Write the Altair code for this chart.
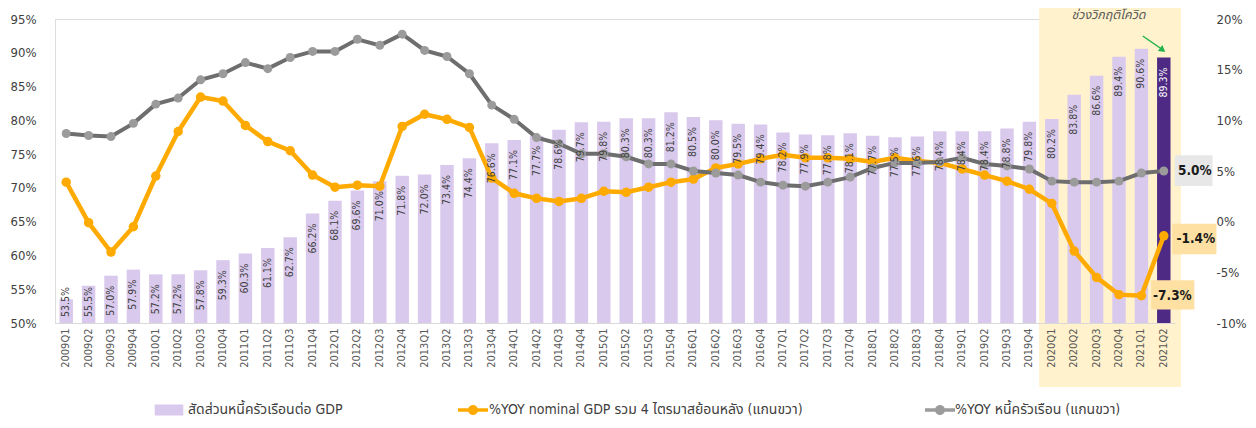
import altair as alt
import pandas as pd

# ---------------- data ----------------
quarters = [f"{y}Q{q}" for y in range(2009, 2022) for q in (1, 2, 3, 4)][:50]

debt_to_gdp = [53.5, 55.5, 57.0, 57.9, 57.2, 57.2, 57.8, 59.3,
               60.3, 61.1, 62.7, 66.2, 68.1, 69.6, 71.0, 71.8,
               72.0, 73.4, 74.4, 76.6, 77.1, 77.7, 78.6, 79.7,
               79.8, 80.3, 80.3, 81.2, 80.5, 80.0, 79.5, 79.4,
               78.2, 77.9, 77.8, 78.1, 77.7, 77.5, 77.6, 78.4,
               78.4, 78.4, 78.8, 79.8, 80.2, 83.8, 86.6, 89.4,
               90.6, 89.3]

gdp_yoy = [3.9, -0.1, -3.0, -0.5, 4.5, 8.9, 12.3, 11.9,
           9.5, 7.9, 7.0, 4.6, 3.4, 3.6, 3.5, 9.4,
           10.6, 10.1, 9.3, 4.3, 2.8, 2.3, 2.0, 2.3,
           3.0, 2.9, 3.4, 3.9, 4.2, 5.3, 5.7, 6.2,
           6.6, 6.3, 6.3, 6.2, 5.9, 6.3, 6.0, 5.8,
           5.2, 4.6, 4.0, 3.2, 1.8, -2.9, -5.5, -7.2,
           -7.3, -1.4]

debt_yoy = [8.7, 8.5, 8.4, 9.7, 11.6, 12.2, 14.0, 14.6,
            15.7, 15.1, 16.2, 16.8, 16.8, 18.0, 17.4, 18.5,
            16.9, 16.3, 14.6, 11.5, 10.1, 8.3, 7.7, 6.7,
            6.7, 6.4, 5.7, 5.7, 5.0, 4.8, 4.6, 3.9,
            3.6, 3.5, 3.9, 4.4, 5.3, 5.8, 5.8, 5.9,
            6.3, 5.7, 5.5, 5.2, 4.0, 3.9, 3.9, 4.0,
            4.8, 5.0]

left_ticks = [50, 55, 60, 65, 70, 75, 80, 85, 90, 95]
right_ticks = [-10, -5, 0, 5, 10, 15, 20]

name_bar = "สัดส่วนหนี้ครัวเรือนต่อ GDP"
name_gdp = "%YOY nominal GDP รวม 4 ไตรมาสย้อนหลัง (แกนขวา)"
name_debt = "%YOY หนี้ครัวเรือน (แกนขวา)"
covid_text = "ช่วงวิกฤติโควิด"

# ---------------- styles ----------------
FONT = "Tahoma, 'DejaVu Sans Condensed', 'Noto Sans Thai', 'Noto Sans', sans-serif"
LAV = "#D9C9EC"
DARK = "#4E2A84"
ORANGE = "#FFAA00"
GLINE = "#6E6E6E"
GPT = "#9B9B9B"
HL = "#FFF2CC"
TXT = "#404040"
W, H = 1120, 304
STEP = W / 50.0

n = len(quarters)
df = pd.DataFrame({"q": quarters, "ratio": debt_to_gdp, "gdp": gdp_yoy, "debt": debt_yoy})
df["bar_cat"] = [name_bar] * (n - 1) + ["latest"]
df["label"] = df["ratio"].map(lambda v: f"{v:.1f}%")
df["label_pos"] = (df["ratio"] - 1.48).clip(lower=55.33)
df["label_color"] = [TXT] * (n - 1) + ["#FFFFFF"]
df["s_gdp"] = name_gdp
df["s_debt"] = name_debt

box_gray = "M0.73,-1.05H3.25V1H0.73Z"
box_o1 = "M0.56,-0.8H3.51V1.22H0.56Z"
box_o2 = "M0.65,-1.02H3.53V0.93H0.65Z"
ann = pd.DataFrame({
    "q": [quarters[-1], quarters[-1], quarters[-2]],
    "val": [debt_yoy[-1], gdp_yoy[-1], gdp_yoy[-2]],
    "shape": [box_gray, box_o1, box_o2],
    "fill": ["#E7E7E7", "#FFE0A3", "#FFE0A3"],
})
ann["label"] = ann["val"].map(lambda v: f"{v:.1f}%")
ann["dy"] = [0, 1, 0]

X = alt.X("q:N", sort=quarters,
          scale=alt.Scale(paddingInner=0.4, paddingOuter=0.2),
          axis=alt.Axis(title=None, labelAngle=270, labelFontSize=11, labelColor="#595959",
                        ticks=False, domainColor="#D9D9D9", labelPadding=5, labelFont=FONT,
                        zindex=1))
yL = alt.Scale(domain=[50, 95], nice=False, zero=False)
yR = alt.Scale(domain=[-10, 20], nice=False, zero=False)

axisL = alt.Axis(title=None, values=left_ticks, labelExpr="datum.value + '%'", grid=False,
                 ticks=False, domain=False, labelFontSize=13, labelColor=TXT, labelPadding=19,
                 labelFont=FONT)
axisR = alt.Axis(title=None, orient="right", values=right_ticks, labelExpr="datum.value + '%'",
                 grid=False, ticks=False, domain=False, labelFontSize=13, labelColor=TXT,
                 labelPadding=41, labelFont=FONT)

LINEDOT = "M-1.5,-0.18H1.5V0.18H-1.5Z M-0.5,0A0.5,0.5,0,1,1,0.5,0A0.5,0.5,0,1,1,-0.5,0Z"
RECT = "M-1.3,-0.5H1.3V0.5H-1.3Z"


def legend(x, y, path, size, fill, offset, values=None):
    kw = {}
    if values is not None:
        kw["values"] = values
    return alt.Legend(title=None, orient="none", legendX=x, legendY=y, symbolType=path,
                      symbolSize=size, labelFontSize=14, labelColor=TXT, labelFont=FONT,
                      labelLimit=700, labelOffset=offset, symbolFillColor=fill,
                      symbolStrokeColor=fill, symbolStrokeWidth=0, symbolOpacity=1, **kw)


one = pd.DataFrame({"k": [0]})

highlight = alt.Chart(one).mark_rect(color=HL).encode(
    x=alt.value(44 * STEP - 1.5), x2=alt.value(50 * STEP + 6),
    y=alt.value(-16), y2=alt.value(368))

covid = alt.Chart(one).mark_text(text=covid_text, fontStyle="italic", fontSize=12.5,
                                 color="#595959", font=FONT).encode(
    x=alt.value(47 * STEP + 0.7), y=alt.value(-4))

arrow = alt.Chart(one).mark_rule(color="#22B24C", strokeWidth=1.5).encode(
    x=alt.value(48.56 * STEP), x2=alt.value(49.4 * STEP), y=alt.value(17), y2=alt.value(30))
arrowhead = alt.Chart(one).mark_point(shape="triangle-right", filled=True, size=55, angle=37,
                                      color="#22B24C", opacity=1).encode(
    x=alt.value(49.45 * STEP), y=alt.value(31))

bars = alt.Chart(df).mark_bar().encode(
    x=X,
    y=alt.Y("ratio:Q", scale=yL, axis=axisL),
    y2=alt.datum(50),
    color=alt.Color("bar_cat:N", scale=alt.Scale(domain=[name_bar, "latest"], range=[LAV, DARK]),
                    legend=legend(103, 380, RECT, 484, LAV, 8, values=[name_bar])))

bar_labels = alt.Chart(df).mark_text(angle=270, align="right", baseline="middle", fontSize=10.5,
                                     font=FONT).encode(
    x=X,
    y=alt.Y("label_pos:Q", scale=yL, axis=None),
    text="label:N",
    color=alt.Color("label_color:N", scale=None))

o_line = alt.Chart(df).mark_line(color=ORANGE, strokeWidth=4.5).encode(
    x=X, y=alt.Y("gdp:Q", scale=yR, axis=axisR))
o_pts = alt.Chart(df).mark_point(filled=True, size=90, opacity=1).encode(
    x=X, y=alt.Y("gdp:Q", scale=yR, axis=None),
    color=alt.Color("s_gdp:N", scale=alt.Scale(domain=[name_gdp], range=[ORANGE]),
                    legend=legend(408, 381, LINEDOT, 400, ORANGE, 6)))

g_line = alt.Chart(df).mark_line(color=GLINE, strokeWidth=4).encode(
    x=X, y=alt.Y("debt:Q", scale=yR, axis=None))
g_pts = alt.Chart(df).mark_point(filled=True, size=80, opacity=1).encode(
    x=X, y=alt.Y("debt:Q", scale=yR, axis=None),
    color=alt.Color("s_debt:N", scale=alt.Scale(domain=[name_debt], range=[GPT]),
                    legend=legend(875, 381, LINEDOT, 400, "#8A8A8A", 5)))

boxes = alt.Chart(ann).mark_point(filled=True, size=900, opacity=1).encode(
    x=X, y=alt.Y("val:Q", scale=yR, axis=None),
    shape=alt.Shape("shape:N", scale=None),
    color=alt.Color("fill:N", scale=None))

ann_text_a = alt.Chart(ann).transform_filter("datum.dy == 0").mark_text(
    fontWeight="bold", fontSize=13.5, dx=31, color="#1A1A1A", font=FONT).encode(
    x=X, y=alt.Y("val:Q", scale=yR, axis=None), text="label:N")
ann_text_b = alt.Chart(ann).transform_filter("datum.dy == 1").mark_text(
    fontWeight="bold", fontSize=13.5, dx=32, dy=3, color="#1A1A1A", font=FONT).encode(
    x=X, y=alt.Y("val:Q", scale=yR, axis=None), text="label:N")

chart = alt.layer(
    highlight, covid, arrow, arrowhead, bars, o_line, o_pts, g_line, g_pts, bar_labels,
    boxes, ann_text_a, ann_text_b
).resolve_scale(
    y="independent", color="independent", shape="independent"
).properties(
    width=W, height=H,
    autosize=alt.AutoSizeParams(type="none"),
    padding={"left": 47, "top": 11, "right": 73, "bottom": 97},
).configure_view(stroke=None).configure(font=FONT)

chart.save("out.html", embed_options={"renderer": "svg", "actions": False})
